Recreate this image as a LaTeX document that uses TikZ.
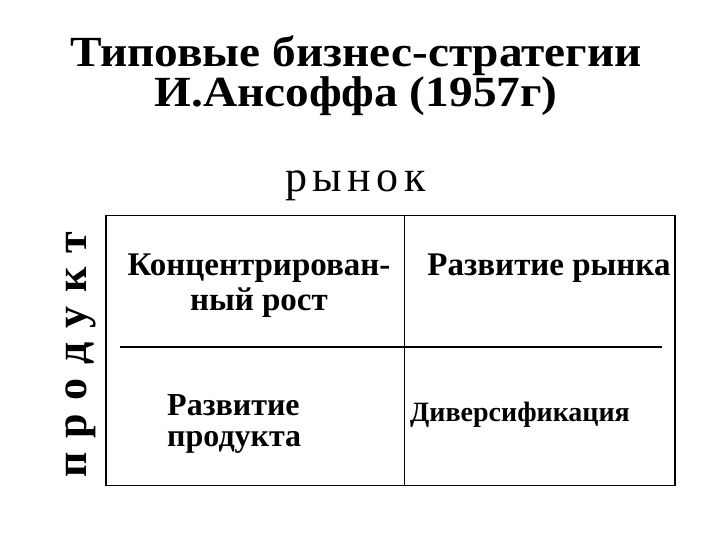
\documentclass[tikz,border=0pt]{standalone}
\usepackage{fontspec}
\setmainfont{Liberation Serif}
\newfontfamily\widetitle[FakeStretch=1.1]{Liberation Serif}
\newfontfamily\loosespaced[WordSpace=1.25]{Liberation Serif}
\usetikzlibrary{positioning}
\newcommand{\gap}{\hspace{5.5pt}}
\tikzstyle{heading} = [font=\widetitle\bfseries\fontsize{43}{40}\selectfont, align=center, inner sep=0pt]
\tikzstyle{axislabel} = [font=\fontsize{44}{44}\selectfont, inner sep=0pt]
\tikzstyle{cellbig} = [font=\bfseries\fontsize{33}{35}\selectfont, align=center, inner sep=0pt]
\tikzstyle{cellsmall} = [font=\bfseries\fontsize{32}{31}\selectfont, align=left, inner sep=0pt]
\tikzstyle{gridline} = [line width=1.3pt, draw=black]

\begin{document}
\begin{tikzpicture}[x=1pt,y=-1pt]
\useasboundingbox (0,0) rectangle (720,540);

% title
\node (title) [heading, anchor=base] at (356,106.7) {Типовые бизнес-стратегии\\И.Ансоффа (1957г)};

% axes
\node (market) [axislabel, anchor=base] at (355.5,191.7) {р\gap ы\gap н\gap о\gap к};
\node (product) [axislabel, font=\loosespaced\bfseries\fontsize{44}{44}\selectfont, rotate=90, anchor=base] at (86,355) {п р о д у к т};

% matrix frame
\node (frame) [gridline, draw, minimum width=569pt, minimum height=270pt, inner sep=0pt] at (390.4,350.7) {};
\coordinate (vtop) at (404.5,215.7);
\coordinate (vbot) at (404.5,485.7);
\coordinate (hleft) at (120,347);
\coordinate (hright) at (661.7,347);
\draw [gridline] (vtop) -- (vbot);
\draw [gridline] (hleft) -- (hright);

% cells
\node (conc) [cellbig, anchor=base] at (259,310) {Концентрирован-\\ный рост};
\node (mdev) [cellbig, anchor=base] at (549,275) {Развитие рынка};
\node (pdev) [cellsmall, anchor=base west] at (167,446) {Развитие\\продукта};
\node (divers) [cellsmall, font=\bfseries\fontsize{28}{28}\selectfont, anchor=base west] at (410,421.7) {Диверсификация};

\end{tikzpicture}
\end{document}
